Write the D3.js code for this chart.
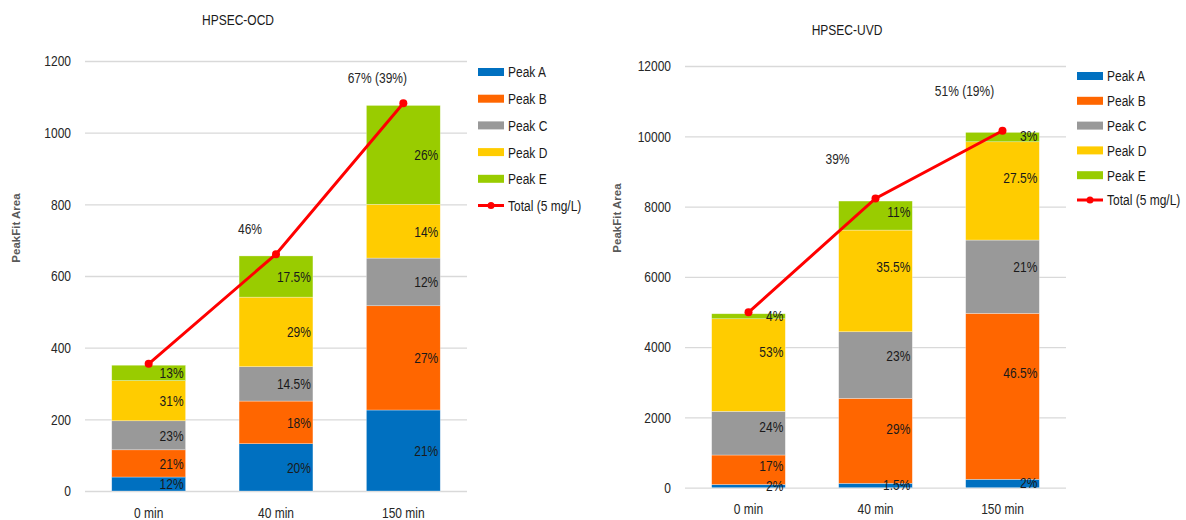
<!DOCTYPE html>
<html>
<head>
<meta charset="utf-8">
<script src="https://cdn.jsdelivr.net/npm/d3@7"></script>
<style>
  body { margin: 0; background: #fff; }
  svg { display: block; font-family: "Liberation Sans", Arial, sans-serif; }
</style>
</head>
<body>
<svg id="chart" width="1186" height="520"></svg>
<script>
// ---------- DATA ----------
const categories = ["0 min", "40 min", "150 min"];
const seriesNames = ["Peak A", "Peak B", "Peak C", "Peak D", "Peak E"];
const totalName = "Total (5 mg/L)";

// HPSEC-OCD
const ocdPeakA = [39, 132, 226];
const ocdPeakB = [76, 119, 291];
const ocdPeakC = [81, 96, 133];
const ocdPeakD = [112, 194, 150];
const ocdPeakE = [43, 115, 276];
const ocdTotal = [355, 661, 1082];
const ocdLabelsA = ["12%", "20%", "21%"];
const ocdLabelsB = ["21%", "18%", "27%"];
const ocdLabelsC = ["23%", "14.5%", "12%"];
const ocdLabelsD = ["31%", "29%", "14%"];
const ocdLabelsE = ["13%", "17.5%", "26%"];
const ocdNotes = ["", "46%", "67% (39%)"];
const ocdTicks = [0, 200, 400, 600, 800, 1000, 1200];

// HPSEC-UVD
const uvdPeakA = [90, 125, 239];
const uvdPeakB = [840, 2418, 4723];
const uvdPeakC = [1243, 1895, 2085];
const uvdPeakD = [2635, 2893, 2797];
const uvdPeakE = [142, 826, 267];
const uvdTotal = [4990, 8230, 10157];
const uvdLabelsA = ["2%", "1.5%", "2%"];
const uvdLabelsB = ["17%", "29%", "46.5%"];
const uvdLabelsC = ["24%", "23%", "21%"];
const uvdLabelsD = ["53%", "35.5%", "27.5%"];
const uvdLabelsE = ["4%", "11%", "3%"];
const uvdNotes = ["", "39%", "51% (19%)"];
const uvdTicks = [0, 2000, 4000, 6000, 8000, 10000, 12000];

const colors = ["#0070C0", "#FF6600", "#999999", "#FFCC00", "#99CC00"];
const lineColor = "#FF0000";
const SQUEEZE = 0.8;
const FS = "15px";

// ---------- DRAW ----------
const svg = d3.select("#chart");

// horizontally condense text around its anchor point (mimics a narrow font)
function condense(sel) {
  sel.each(function () {
    const x = +this.getAttribute("x") || 0;
    const y = +this.getAttribute("y") || 0;
    this.setAttribute("x", 0);
    this.setAttribute("y", 0);
    this.setAttribute("transform", `translate(${x},${y}) scale(${SQUEEZE},1)`);
  });
}

function drawChart(opt) {
  const g = svg.append("g");
  const peaks = opt.peaks;
  const labels = opt.labels;
  const rows = categories.map((c, i) => {
    const r = { cat: c };
    seriesNames.forEach((s, k) => r[s] = peaks[k][i]);
    return r;
  });
  const stack = d3.stack().keys(seriesNames)(rows);

  const x = d3.scaleBand().domain(categories).range([opt.x0, opt.x1])
    .paddingInner(0.42).paddingOuter(0.21);
  const y = d3.scaleLinear().domain([opt.ticks[0], opt.ticks[opt.ticks.length - 1]])
    .range([opt.y0, opt.y1]);

  // gridlines + y tick labels
  const yAxis = d3.axisLeft(y).tickValues(opt.ticks).tickSize(-(opt.x1 - opt.x0)).tickPadding(14).tickFormat(d3.format("d"));
  const ag = g.append("g").attr("transform", `translate(${opt.x0},0)`).call(yAxis);
  ag.select(".domain").remove();
  ag.selectAll(".tick line").attr("stroke", "#D9D9D9").attr("stroke-width", 1.3);
  ag.selectAll(".tick text").attr("fill", "#262626").style("font-size", FS)
    .style("font-family", "'Liberation Sans', Arial, sans-serif").call(condense);

  // x axis labels
  const xAxis = d3.axisBottom(x).tickSize(0).tickPadding(16);
  const xg = g.append("g").attr("transform", `translate(0,${opt.y0})`).call(xAxis);
  xg.select(".domain").remove();
  xg.selectAll(".tick text").attr("fill", "#262626").style("font-size", FS)
    .style("font-family", "'Liberation Sans', Arial, sans-serif").call(condense);

  // bars
  stack.forEach((layer, k) => {
    g.append("g").selectAll("rect").data(layer).join("rect")
      .attr("x", d => x(d.data.cat))
      .attr("width", x.bandwidth())
      .attr("y", d => y(d[1]))
      .attr("height", d => y(d[0]) - y(d[1]))
      .attr("fill", colors[k])
      .attr("stroke", "rgba(255,255,255,0.5)")
      .attr("stroke-width", 0.6);
  });

  // bar labels
  stack.forEach((layer, k) => {
    g.append("g").selectAll("text").data(layer).join("text")
      .attr("x", d => x(d.data.cat) + x.bandwidth() - 2)
      .attr("y", d => y(d[1]) + (y(d[0]) - y(d[1])) * opt.labelFrac)
      .attr("dy", "0.36em")
      .attr("text-anchor", "end")
      .attr("fill", "#1a1a1a")
      .style("font-size", FS)
      .text((d, i) => labels[k][i])
      .call(condense);
  });

  // total line
  const line = d3.line().x((d, i) => x(categories[i]) + x.bandwidth() / 2).y(d => y(d));
  g.append("path").datum(opt.total).attr("d", line)
    .attr("fill", "none").attr("stroke", lineColor).attr("stroke-width", 3);
  g.append("g").selectAll("circle").data(opt.total).join("circle")
    .attr("cx", (d, i) => x(categories[i]) + x.bandwidth() / 2)
    .attr("cy", d => y(d)).attr("r", 4).attr("fill", lineColor);

  // notes
  g.append("g").selectAll("text").data(opt.notes).join("text")
    .attr("x", (d, i) => x(categories[i]) + x.bandwidth() / 2 - opt.noteDx)
    .attr("y", (d, i) => y(opt.total[i]) - opt.noteDy)
    .attr("dy", "0.36em")
    .attr("text-anchor", "middle")
    .attr("fill", "#262626")
    .style("font-size", FS)
    .text(d => d)
    .call(condense);

  // title
  g.append("text").attr("x", opt.titleX).attr("y", opt.titleY).attr("dy", "0.36em")
    .attr("text-anchor", "middle").attr("fill", "#1a1a1a").style("font-size", FS).text(opt.title)
    .call(condense);

  // y axis title
  g.append("text").attr("transform", `translate(${opt.yTitleX},${opt.yTitleY}) rotate(-90)`)
    .attr("text-anchor", "middle").attr("dy", "0.36em")
    .attr("fill", "#595959").style("font-size", "11.5px").style("font-weight", "bold")
    .style("font-family", "'Liberation Sans', Arial, sans-serif")
    .text("PeakFit Area");

  // legend
  const lg = g.append("g").attr("transform", `translate(${opt.legX},${opt.legY})`);
  const legItems = seriesNames.concat([totalName]);
  legItems.forEach((name, i) => {
    const row = lg.append("g").attr("transform", `translate(0,${i * opt.legStep})`);
    if (i < seriesNames.length) {
      row.append("rect").attr("x", 0).attr("y", -4).attr("width", 26).attr("height", 8).attr("fill", colors[i]);
    } else {
      row.append("line").attr("x1", 0).attr("x2", 26).attr("y1", 0).attr("y2", 0)
        .attr("stroke", lineColor).attr("stroke-width", 3);
      row.append("circle").attr("cx", 13).attr("cy", 0).attr("r", 3.5).attr("fill", lineColor);
    }
    row.append("text").attr("x", 30).attr("y", 0).attr("dy", "0.36em")
      .attr("fill", "#1a1a1a").style("font-size", FS).text(name)
      .call(condense);
  });
}

drawChart({
  peaks: [ocdPeakA, ocdPeakB, ocdPeakC, ocdPeakD, ocdPeakE],
  labels: [ocdLabelsA, ocdLabelsB, ocdLabelsC, ocdLabelsD, ocdLabelsE],
  total: ocdTotal, notes: ocdNotes, ticks: ocdTicks,
  x0: 85, x1: 467, y0: 491, y1: 61,
  labelFrac: 0.5, noteDx: 26, noteDy: 26,
  title: "HPSEC-OCD", titleX: 238, titleY: 20,
  yTitleX: 16, yTitleY: 228,
  legX: 478, legY: 72, legStep: 26.7
});

drawChart({
  peaks: [uvdPeakA, uvdPeakB, uvdPeakC, uvdPeakD, uvdPeakE],
  labels: [uvdLabelsA, uvdLabelsB, uvdLabelsC, uvdLabelsD, uvdLabelsE],
  total: uvdTotal, notes: uvdNotes, ticks: uvdTicks,
  x0: 685, x1: 1066, y0: 487.7, y1: 66,
  labelFrac: 0.36, noteDx: 38, noteDy: 40,
  title: "HPSEC-UVD", titleX: 847, titleY: 30,
  yTitleX: 617, yTitleY: 218,
  legX: 1077, legY: 76, legStep: 24.8
});
</script>
</body>
</html>
